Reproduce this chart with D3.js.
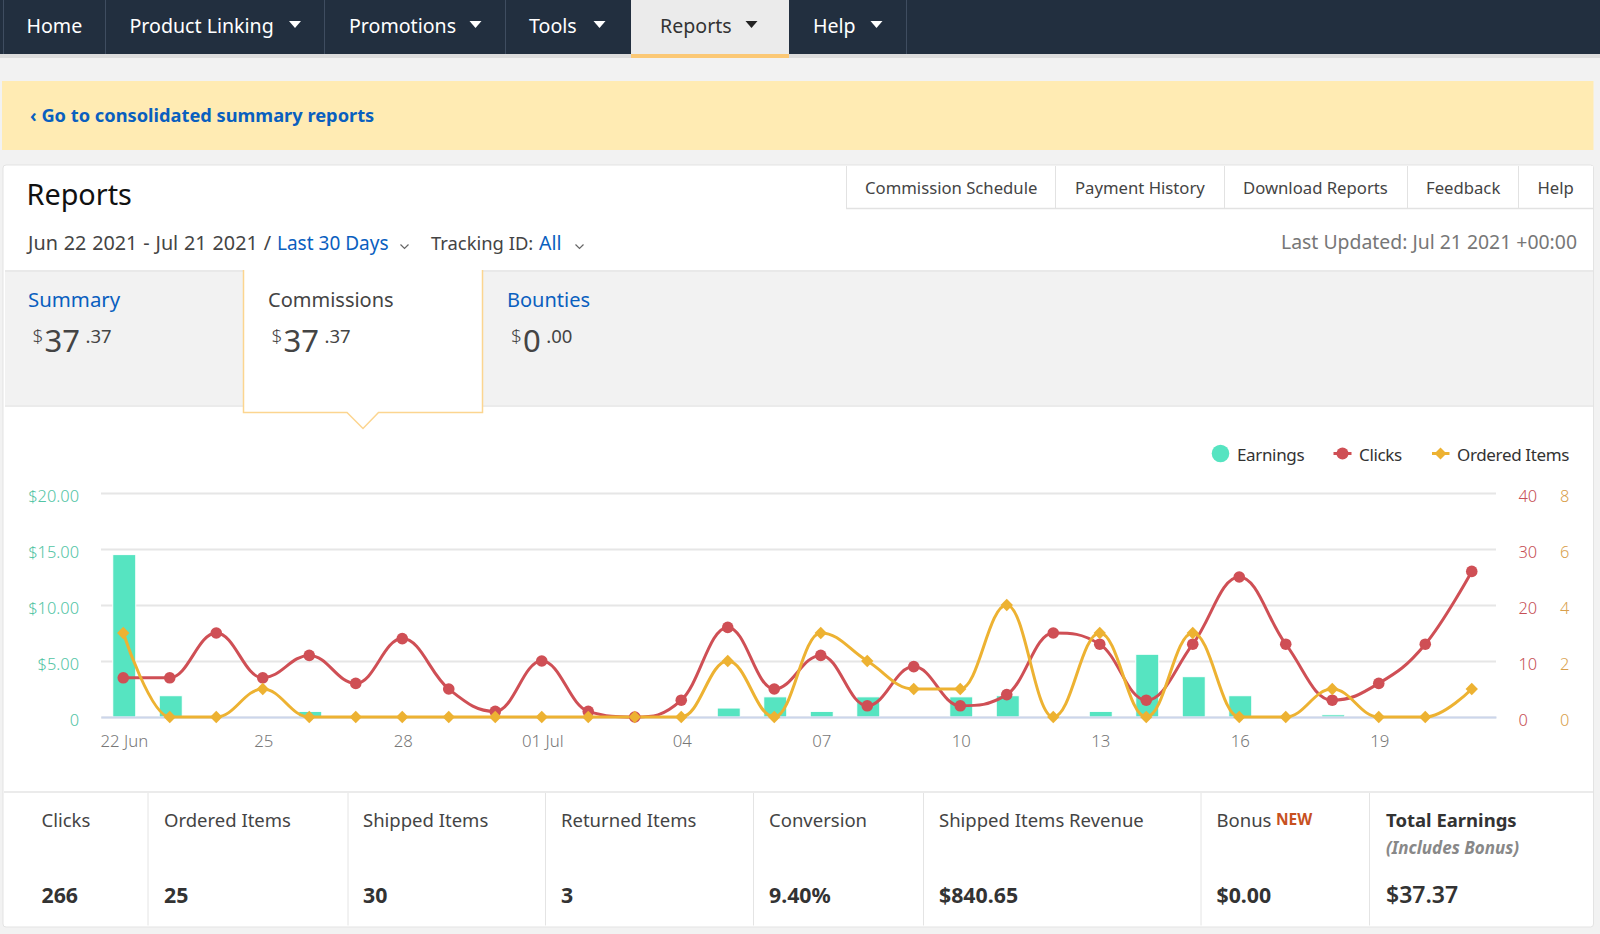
<!DOCTYPE html>
<html>
<head>
<meta charset="utf-8">
<title>Reports</title>
<script src="https://cdn.jsdelivr.net/npm/d3@7"></script>
<style>
    html, body { margin: 0; padding: 0; background: #f2f2f2; overflow: hidden; }
    svg { display: block; }
    text { font-family: "Noto Sans", Roboto, sans-serif; }
    .tick text { font-weight: 300; }
</style>
</head>
<body>
<svg id="page" width="1600" height="934"></svg>
<script>
// chart data, one entry per day
const days = ["22 Jun", "23", "24", "25", "26", "27", "28", "29", "30", "01 Jul",
    "02", "03", "04", "05", "06", "07", "08", "09", "10", "11",
    "12", "13", "14", "15", "16", "17", "18", "19", "20", "21"];
const earnings = [14.5, 1.9, 0, 0, 0.5, 0, 0, 0, 0, 0,
    0, 0, 0, 0.8, 1.8, 0.5, 1.8, 0, 1.8, 1.9,
    0, 0.5, 5.6, 3.6, 1.9, 0, 0.2, 0, 0, 0];
const clicks = [7, 7, 15, 7, 11, 6, 14, 5, 1, 10,
    1, 0, 3, 16, 5, 11, 2, 9, 2, 4,
    15, 13, 3, 13, 25, 13, 3, 6, 13, 26];
const orderedItems = [3, 0, 0, 1, 0, 0, 0, 0, 0, 0,
    0, 0, 0, 2, 0, 3, 2, 1, 1, 4,
    0, 3, 0, 3, 0, 0, 1, 0, 0, 1];

const earningTicks = [0, 5, 10, 15, 20];
const clickTicks = [0, 10, 20, 30, 40];
const itemTicks = [0, 2, 4, 6, 8];

// page texts
const navLabels = ["Home", "Product Linking", "Promotions", "Tools", "Reports", "Help"];
const linkLabels = ["Commission Schedule", "Payment History", "Download Reports", "Feedback", "Help"];
const statLabels = ["Clicks", "Ordered Items", "Shipped Items", "Returned Items", "Conversion", "Shipped Items Revenue", "Bonus", "Total Earnings"];
const statValues = ["266", "25", "30", "3", "9.40%", "$840.65", "$0.00", "$37.37"];

const colors = { earnings: "#56e4c1", clicks: "#cf4f55", items: "#edb232", blue: "#0a5fbf", text: "#444" };

const svg = d3.select("#page");

function rect(x, y, w, h, fill) {
    return svg.append("rect").attr("x", x).attr("y", y).attr("width", w).attr("height", h).attr("fill", fill);
}

function label(x, y, str, size, fill) {
    return svg.append("text").attr("x", x).attr("y", y).attr("font-size", size).attr("fill", fill).text(str);
}

function vline(x, y1, y2, stroke) {
    svg.append("line").attr("x1", x).attr("x2", x).attr("y1", y1).attr("y2", y2).attr("stroke", stroke);
}

function chevron(x, y) {
    svg.append("path").attr("d", `M${x - 4},${y - 2}L${x},${y + 2}L${x + 4},${y - 2}`)
        .attr("fill", "none").attr("stroke", "#666").attr("stroke-width", 1.2);
}

// top navigation
rect(0, 0, 1600, 54, "#222f3f");
rect(0, 54, 1600, 4, "#dcdcdc");
rect(631, 0, 158, 54, "#ebebeb");
rect(631, 54, 158, 4, "#fbc875");
[3, 105, 324, 505, 906].forEach(x => vline(x + 0.5, 0, 54, "#3f4d60"));

const navX = [26.5, 129.5, 349, 529, 660, 813];
const caretX = [null, 295, 475.5, 599.5, 751.5, 876.5];
navLabels.forEach((d, i) => {
    const active = d === "Reports";
    label(navX[i], 33, d, 19.6, active ? "#333" : "#fff");
    if (caretX[i]) {
        svg.append("path")
            .attr("d", `M${caretX[i] - 6},21H${caretX[i] + 6}L${caretX[i]},28Z`)
            .attr("fill", active ? "#222" : "#fff");
    }
});

// yellow banner
rect(2, 81, 1591.5, 69, "#ffebb3");
label(30, 121.5, "‹ Go to consolidated summary reports", 18.25, colors.blue).attr("font-weight", 700);

// white panel with the heading rows
svg.append("rect").attr("x", 3).attr("y", 165).attr("width", 1590.5).attr("height", 762)
    .attr("rx", 3).attr("fill", "#fff").attr("stroke", "#e3e3e3");
label(26.5, 205, "Reports", 28.8, "#111");

// links on the top right
rect(846, 166, 747, 43, "#fff");
svg.append("line").attr("x1", 846).attr("x2", 1593).attr("y1", 208.5).attr("y2", 208.5).attr("stroke", "#e2e2e2").attr("stroke-width", 1.5);
[846.5, 1055.5, 1224.5, 1407.5, 1518.5].forEach(x => vline(x, 166, 209, "#e2e2e2"));
const linkX = [865, 1075, 1243, 1426, 1537.5];
linkLabels.forEach((d, i) => label(linkX[i], 194, d, 16.7, colors.text));

// date row
label(28, 250, "Jun 22 2021 - Jul 21 2021 /", 19.8, colors.text).attr("word-spacing", 0.7);
label(277, 250, "Last 30 Days", 19, colors.blue);
chevron(404.5, 246.5);
label(431, 250, "Tracking ID:", 18.4, colors.text);
label(539, 250, "All", 19.5, colors.blue);
chevron(579.5, 246.5);
label(1577, 248.5, "Last Updated: Jul 21 2021 +00:00", 19.4, "#777").attr("text-anchor", "end");

// summary tabs
rect(5, 270, 1588, 135, "#f2f2f2");
rect(5, 270, 1588, 2, "#e9e9e9");
rect(5, 405, 1588, 2, "#ebebeb");
svg.append("path")
    .attr("d", "M243.5,270V412.5H347L363,428.5L378.5,412.5H482.5V270Z")
    .attr("fill", "#fff").attr("stroke", "none");
svg.append("path")
    .attr("d", "M243.5,270V412.5H347L363,428.5L378.5,412.5H482.5V270")
    .attr("fill", "none").attr("stroke", "#fcd590").attr("stroke-width", 1.5);

label(28, 307, "Summary", 20.4, colors.blue);
label(268, 307, "Commissions", 20, colors.text);
label(507, 307, "Bounties", 20, colors.blue);

function amount(x, whole, cents) {
    label(x, 343, "$", 19, colors.text).attr("font-weight", 300);
    const w = label(x + 12, 352, whole, 31, colors.text);
    label(x + 12 + w.node().getComputedTextLength() + 5.5, 343, cents, 18.5, colors.text);
}
amount(32.5, "37", ".37");
amount(271.5, "37", ".37");
amount(511, "0", ".00");

// chart scales
const chartLeft = 101, chartRight = 1496, chartBottom = 717, chartTop = 493;
const x = d3.scaleBand().domain(days).range([chartLeft, chartRight]);
const yEarnings = d3.scaleLinear().domain([0, 20]).range([chartBottom, chartTop]);
const yClicks = d3.scaleLinear().domain([0, 40]).range([chartBottom, chartTop]);
const yItems = d3.scaleLinear().domain([0, 8]).range([chartBottom, chartTop]);

// axes and grid
const leftAxis = svg.append("g").attr("transform", `translate(${chartLeft},0)`)
    .call(d3.axisLeft(yEarnings).tickValues(earningTicks)
        .tickFormat(d => d === 0 ? "0" : "$" + d.toFixed(2))
        .tickSize(-(chartRight - chartLeft)).tickPadding(22));
leftAxis.select(".domain").remove();
leftAxis.selectAll("line").attr("stroke", "#e6e6e6").attr("stroke-width", 2);
leftAxis.selectAll("text").attr("font-size", 16.4).attr("fill", "#52c4a4").attr("dy", "0.5em");

[[yClicks, clickTicks, 22.5, "#c64f55"], [yItems, itemTicks, 64, "#d99f4c"]].forEach(a => {
    const g = svg.append("g").attr("transform", `translate(${chartRight},0)`)
        .call(d3.axisRight(a[0]).tickValues(a[1]).tickSize(0).tickPadding(a[2]));
    g.select(".domain").remove();
    g.selectAll("text").attr("font-size", 16.4).attr("fill", a[3]).attr("dy", "0.5em");
});

// bars
svg.append("g").selectAll("rect")
    .data(earnings)
    .enter()
    .append("rect")
    .attr("x", (d, i) => x(days[i]) + x.bandwidth() / 2 - 11.5)
    .attr("width", 23)
    .attr("y", d => yEarnings(d))
    .attr("height", d => chartBottom - yEarnings(d))
    .attr("fill", colors.earnings)
    .attr("stroke", d => d > 0 ? "#fff" : "none")
    .attr("stroke-width", 1);

const bottomAxis = svg.append("g").attr("transform", `translate(0,${chartBottom})`)
    .call(d3.axisBottom(x).tickValues(days.filter((d, i) => i % 3 === 0)).tickSize(0).tickPadding(18));
bottomAxis.select(".domain").attr("stroke", "#ccd6eb").attr("stroke-width", 2);
bottomAxis.selectAll("text").attr("font-size", 16.8).attr("fill", "#777");

// spline through the points, same smoothing rule as the original chart lib
function splinePath(pts) {
    const path = d3.path();
    const s = 1.5, denom = s + 1;
    let prevRight = pts[0];
    path.moveTo(pts[0][0], pts[0][1]);
    pts.forEach((p, i) => {
        if (i === 0) return;
        const last = pts[i - 1], next = pts[i + 1];
        let left = p, right = p;
        if (next) {
            const lx = (s * p[0] + last[0]) / denom, rx = (s * p[0] + next[0]) / denom;
            let ly = (s * p[1] + last[1]) / denom, ry = (s * p[1] + next[1]) / denom;
            const c = (ry - ly) * (rx - p[0]) / (rx - lx) + p[1] - ry;
            ly += c;
            ry += c;
            if (ly > last[1] && ly > p[1]) {
                ly = Math.max(last[1], p[1]);
                ry = 2 * p[1] - ly;
            } else if (ly < last[1] && ly < p[1]) {
                ly = Math.min(last[1], p[1]);
                ry = 2 * p[1] - ly;
            }
            if (ry > next[1] && ry > p[1]) {
                ry = Math.max(next[1], p[1]);
                ly = 2 * p[1] - ry;
            } else if (ry < next[1] && ry < p[1]) {
                ry = Math.min(next[1], p[1]);
                ly = 2 * p[1] - ry;
            }
            left = [lx, ly];
            right = [rx, ry];
        }
        path.bezierCurveTo(prevRight[0], prevRight[1], left[0], left[1], p[0], p[1]);
        prevRight = right;
    });
    return path.toString();
}

const pointX = i => x(days[i]) + x.bandwidth() / 2 - 1;
const clickPts = clicks.map((d, i) => [pointX(i), yClicks(d)]);
const itemPts = orderedItems.map((d, i) => [pointX(i), yItems(d)]);

[[clickPts, colors.clicks], [itemPts, colors.items]].forEach(s => {
    svg.append("path").attr("d", splinePath(s[0])).attr("fill", "none")
        .attr("stroke", s[1]).attr("stroke-width", 3).attr("stroke-linecap", "round");
});

const diamond = (cx, cy, r) => `M${cx},${cy - r}L${cx + r},${cy}L${cx},${cy + r}L${cx - r},${cy}Z`;

svg.append("g").selectAll("circle")
    .data(clickPts)
    .enter()
    .append("circle")
    .attr("cx", d => d[0])
    .attr("cy", d => d[1])
    .attr("r", 5.8)
    .attr("fill", colors.clicks);

svg.append("g").selectAll("path")
    .data(itemPts)
    .enter()
    .append("path")
    .attr("d", d => diamond(d[0], d[1], 6.2))
    .attr("fill", colors.items);

// legend
svg.append("circle").attr("cx", 1220.5).attr("cy", 453.5).attr("r", 8.8).attr("fill", colors.earnings);
label(1237, 460.5, "Earnings", 17, "#333").attr("letter-spacing", -0.35);
rect(1333.5, 452, 18, 3, colors.clicks);
svg.append("circle").attr("cx", 1342.5).attr("cy", 453.5).attr("r", 6).attr("fill", colors.clicks);
label(1359, 460.5, "Clicks", 17, "#333").attr("letter-spacing", -0.35);
rect(1432, 452, 17.5, 3, colors.items);
svg.append("path").attr("d", diamond(1440.5, 453.5, 6)).attr("fill", colors.items);
label(1457, 460.5, "Ordered Items", 17, "#333").attr("letter-spacing", -0.35);

// totals row
rect(4, 791, 1589, 2, "#ebebeb");
[148, 348, 545.5, 753.5, 923.5, 1201, 1369.5].forEach(x => vline(x, 793, 925.5, "#e4e4e4"));
const statX = [41.5, 164, 363, 561, 769, 939, 1216.5, 1386];
statLabels.forEach((d, i) => {
    const last = i === statLabels.length - 1;
    label(statX[i], 826.5, d, 18.5, last ? "#333" : colors.text).attr("font-weight", last ? 700 : 400);
    label(statX[i], 903, statValues[i], last ? 23 : 21.3, "#333").attr("font-weight", last ? 600 : 700);
});
label(1276, 825, "NEW", 15.5, "#c7511f").attr("font-weight", 700);
label(1386, 853.5, "(Includes Bonus)", 17, "#888").attr("font-style", "italic").attr("font-weight", 700);
</script>
</body>
</html>
